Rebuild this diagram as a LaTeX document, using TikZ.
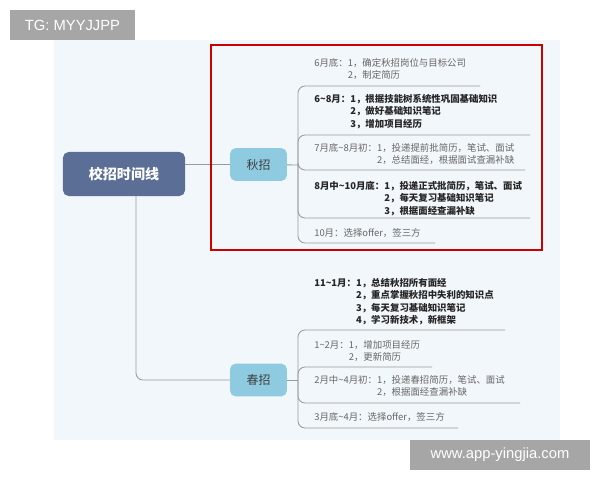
\documentclass[tikz,border=0pt]{standalone}
\usepackage{fontspec}
\setmainfont{Noto Sans CJK SC}
\newfontfamily\latinfont{Liberation Sans}
\usetikzlibrary{positioning}
\definecolor{bgblue}{HTML}{F2F7FB}
\definecolor{rootblue}{HTML}{5A6E96}
\definecolor{subblue}{HTML}{8FCBE0}
\definecolor{linegray}{HTML}{9A9A9A}
\definecolor{txtgray}{HTML}{666666}
\definecolor{markgray}{HTML}{A6A6A6}
\tikzset{
  root/.style={fill=rootblue, rounded corners=4pt, text=white, font=\bfseries\fontsize{10}{12}\selectfont, minimum width=3.05cm, minimum height=1.1cm},
  season/.style={fill=subblue, rounded corners=4pt, text=black!75, font=\fontsize{8.5}{10}\selectfont, minimum width=1.42cm, minimum height=0.82cm},
  item/.style={anchor=north west, inner sep=0pt, align=left, text=txtgray, font=\fontsize{6.7}{8.9}\selectfont},
  bitem/.style={item, text=black!85, font=\bfseries\fontsize{6.7}{8.9}\selectfont},
  branch/.style={draw=linegray, line width=0.6pt, rounded corners=5pt},
  stamp/.style={fill=markgray, text=white, inner sep=0pt, font=\latinfont\fontsize{10.5}{12}\selectfont}
}
\begin{document}
\begin{tikzpicture}[x=0.025cm,y=-0.025cm]
\useasboundingbox (0,0) rectangle (600,480);
\fill[bgblue] (54,40) rectangle (560,440);
\node[stamp, minimum width=3.125cm, minimum height=0.75cm] (tg) at (72.5,25) {TG: MYYJJPP};

% root and seasons
\node[root] (root) at (124,174) {校招时间线};
\node[season] (autumn) at (258.5,164.5) {秋招};
\node[season] (spring) at (258.5,380) {春招};
\draw[branch] (root.east |- autumn) -- (autumn);
\draw[branch] (root.south -| 136,0) |- (spring);

\draw[red!80!black, line width=1.4pt] (211,45) rectangle (542,250);

% autumn items
\coordinate (ahub) at (298,165);
\draw[branch] (autumn) -- (ahub);
\node[item] (a1) at (314,58) {6月底：1，确定秋招岗位与目标公司\\\phantom{6月底：}2，制定简历};
\node[bitem] (a2) at (314,94) {6\textasciitilde8月：1，根据技能树系统性巩固基础知识\\\phantom{6\textasciitilde8月：}2，做好基础知识笔记\\\phantom{6\textasciitilde8月：}3，增加项目经历};
\node[item] (a3) at (314,143) {7月底\textasciitilde8月初：1，投递提前批简历，笔试、面试\\\phantom{7月底\textasciitilde8月初：}2，总结面经，根据面试查漏补缺};
\node[bitem] (a4) at (314,181) {8月中\textasciitilde10月底：1，投递正式批简历，笔试、面试\\\phantom{8月中\textasciitilde10月底：}2，每天复习基础知识笔记\\\phantom{8月中\textasciitilde10月底：}3，根据面经查漏补缺};
\node[item] (a5) at (314,228) {10月：选择offer，签三方};
\coordinate (ae1) at (480,86);
\coordinate (ae2) at (530,135);
\coordinate (ae3) at (525,170);
\coordinate (ae4) at (530,218);
\coordinate (ae5) at (435,243);
\foreach \e in {ae1,ae2,ae3,ae4,ae5}
  \draw[branch] (ahub) |- (\e);

% spring items
\coordinate (shub) at (298,380);
\draw[branch] (spring) -- (shub);
\node[bitem] (s1) at (314,278) {11\textasciitilde1月：1，总结秋招所有面经\\\phantom{11\textasciitilde1月：}2，重点掌握秋招中失利的知识点\\\phantom{11\textasciitilde1月：}3，每天复习基础知识笔记\\\phantom{11\textasciitilde1月：}4，学习新技术，新框架};
\node[item] (s2) at (314,340) {1\textasciitilde2月：1，增加项目经历\\\phantom{1\textasciitilde2月：}2，更新简历};
\node[item] (s3) at (314,375) {2月中\textasciitilde4月初：1，投递春招简历，笔试、面试\\\phantom{2月中\textasciitilde4月初：}2，根据面经查漏补缺};
\node[item] (s4) at (314,412) {3月底\textasciitilde4月：选择offer，签三方};
\coordinate (se1) at (505,330);
\coordinate (se2) at (432,367);
\coordinate (se3) at (520,403);
\coordinate (se4) at (458,428);
\foreach \e in {se1,se2,se3,se4}
  \draw[branch] (shub) |- (\e);

\node[stamp, minimum width=4.5cm, minimum height=0.75cm] (web) at (500,455) {www.app-yingjia.com};
\end{tikzpicture}
\end{document}
